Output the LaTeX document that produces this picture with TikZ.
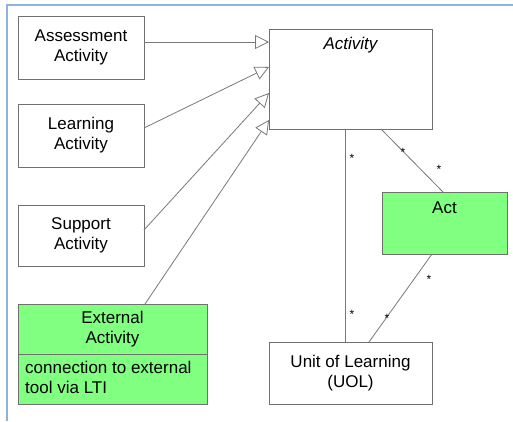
\documentclass[tikz,border=0pt]{standalone}
\usepackage{fontspec}
\setmainfont{Liberation Sans}
\usetikzlibrary{arrows.meta}
\definecolor{frameblue}{RGB}{141,179,226}
\definecolor{boxgray}{RGB}{112,112,112}
\definecolor{linegray}{RGB}{120,120,120}
\definecolor{lgreen}{RGB}{128,255,128}
\begin{document}
\begin{tikzpicture}[x=1pt,y=-1pt,
  box/.style={draw=boxgray, line width=0.9pt, rectangle, inner sep=0pt, align=center,
    font=\fontsize{17}{20}\selectfont},
  txt/.style={inner sep=0pt, align=center, font=\fontsize{17}{20}\selectfont},
  conn/.style={draw=linegray, line width=0.8pt},
  gen/.style={conn, -{Triangle[open, length=14pt, width=14pt, fill=white]}},
  mult/.style={inner sep=0pt, font=\fontsize{12}{12}\selectfont}]
\useasboundingbox (0,0) rectangle (513,421);
% frame
\draw[frameblue, line width=1.2pt] (7,421) -- (7,5) -- (513,5);
% boxes
\node[box, minimum width=126pt, minimum height=63pt] (assess) at (81,47.5) {Assessment\\Activity};
\node[box, minimum width=126pt, minimum height=63pt] (learn) at (81,135.5) {Learning\\Activity};
\node[box, minimum width=126pt, minimum height=61pt] (support) at (81,235.5) {Support\\Activity};
\node[box, fill=lgreen, minimum width=189pt, minimum height=50pt] (ext) at (112.5,329) {External\\Activity};
\node[box, fill=lgreen, minimum width=189pt, minimum height=50pt] (extnote) at (112.5,379) {};
\node[txt, align=left, anchor=west] (extnotetxt) at (25,377) {connection to external\\tool via LTI};
\node[box, minimum width=163pt, minimum height=100pt] (activity) at (350.5,79) {};
\node[txt, font=\fontsize{17}{20}\selectfont\itshape] (activitytxt) at (350.5,45) {Activity};
\node[box, fill=lgreen, minimum width=125pt, minimum height=62pt] (actbox) at (444.5,223) {};
\node[txt] (acttxt) at (444.5,208) {Act};
\node[box, minimum width=163pt, minimum height=62pt] (uol) at (350.5,373) {Unit of Learning\\(UOL)};
% endpoints
\coordinate (t1) at (269,42);
\coordinate (t2) at (269,67);
\coordinate (t3) at (269,93);
\coordinate (t4) at (269,120);
\coordinate (s1) at (144,42);
\coordinate (s2) at (144,128);
\coordinate (s3) at (144,230);
\coordinate (s4) at (145,304);
\coordinate (a1) at (345,129);
\coordinate (u1) at (345,342);
\coordinate (a2) at (381,129);
\coordinate (c1) at (443,192);
\coordinate (c2) at (432,254);
\coordinate (u2) at (369,342);
% generalizations
\draw[gen] (s1) -- (t1);
\draw[gen] (s2) -- (t2);
\draw[gen] (s3) -- (t3);
\draw[gen] (s4) -- (t4);
% associations
\draw[conn] (a1) -- (u1);
\draw[conn] (a2) -- (c1);
\draw[conn] (c2) -- (u2);
% multiplicities
\node[mult] (m1) at (352,158) {*};
\node[mult] (m2) at (352,314) {*};
\node[mult] (m3) at (403,152) {*};
\node[mult] (m4) at (439,169) {*};
\node[mult] (m5) at (429,279) {*};
\node[mult] (m6) at (387,318) {*};
\end{tikzpicture}
\end{document}
